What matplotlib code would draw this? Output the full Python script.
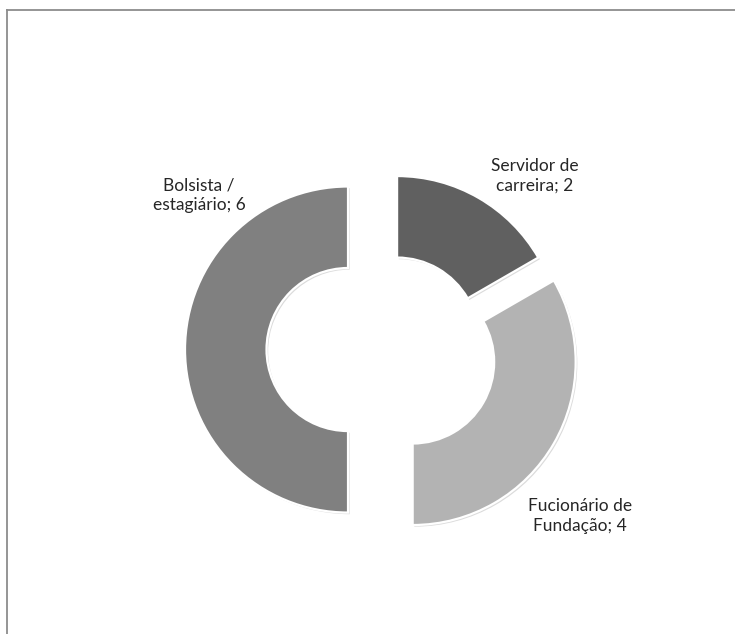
import matplotlib
matplotlib.use("Agg")
import matplotlib.pyplot as plt
from matplotlib.lines import Line2D
import matplotlib.patheffects as pe

# Staff composition
categories = ["Servidor de\ncarreira", "Fucionário de\nFundação", "Bolsista /\nestagiário"]
values = [2, 4, 6]
colors = ["#606060", "#b3b3b3", "#808080"]
explode = [0.074, 0.153, 0.264]

fig = plt.figure(figsize=(7.35, 6.34), dpi=100)
fig.patch.set_facecolor("white")
ax = fig.add_axes([0, 0, 1, 1])

wedges, _ = ax.pie(
    values,
    colors=colors,
    explode=explode,
    startangle=90,
    counterclock=False,
    radius=1.0,
    wedgeprops=dict(width=0.5, edgecolor="white", linewidth=1.6),
)
for w in wedges:
    w.set_path_effects([
        pe.SimplePatchShadow(offset=(1.2, -1.2), shadow_rgbFace="#9a9a9a", alpha=0.35),
        pe.Normal(),
    ])

ax.set_xlim(-2.399, 2.110)
ax.set_ylim(-1.745, 2.144)
ax.set_aspect("auto")
ax.axis("off")

label_pos = [(0.883, 1.064), (1.160, -1.021), (-1.178, 0.948)]
for name, val, (lx, ly) in zip(categories, values, label_pos):
    ax.text(lx, ly, f"{name}; {val}", ha="center", va="center",
            fontsize=12.5, family=["Lato", "DejaVu Sans"], color="#262626",
            linespacing=1.3)

# chart area frame (top and left edges)
frame_color = "#8c8c8c"
fig.add_artist(Line2D([7 / 735, 1.0], [1 - 10 / 634, 1 - 10 / 634],
                      transform=fig.transFigure, color=frame_color, linewidth=1.3))
fig.add_artist(Line2D([7 / 735, 7 / 735], [0.0, 1 - 10 / 634],
                      transform=fig.transFigure, color=frame_color, linewidth=1.3))

fig.savefig("out.png", dpi=100, facecolor="white")
